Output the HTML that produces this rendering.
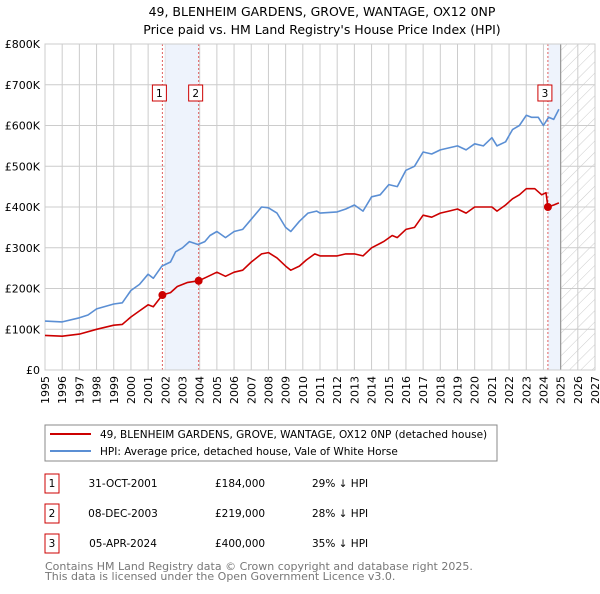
<!DOCTYPE html>
<html><head><meta charset="utf-8">
<style>
body{margin:0;background:#fff;width:600px;height:590px;overflow:hidden;font-family:"DejaVu Sans","Liberation Sans",sans-serif;}
svg text{font-family:"DejaVu Sans","Liberation Sans",sans-serif;}
</style></head>
<body>
<svg id="chart" width="600" height="590" viewBox="0 0 600 590" xmlns="http://www.w3.org/2000/svg">
<defs>
<pattern id="hatch" patternUnits="userSpaceOnUse" width="8" height="8" patternTransform="rotate(45)">
<line x1="0" y1="0" x2="0" y2="8" stroke="#ccc" stroke-width="1"/>
</pattern>
</defs>
<text x="322" y="16" text-anchor="middle" font-size="12.5">49, BLENHEIM GARDENS, GROVE, WANTAGE, OX12 0NP</text>
<text x="322" y="34" text-anchor="middle" font-size="12.5">Price paid vs. HM Land Registry's House Price Index (HPI)</text>
<g id="grid"></g>
<g id="bands"></g>
<g id="axes"></g>
<g id="series"></g>
<g id="markers"></g>
<rect x="45" y="425" width="452" height="36" fill="#fff" stroke="#888"/>
<line x1="50" y1="434" x2="91" y2="434" stroke="#cc0000" stroke-width="2"/>
<text x="100" y="438" font-size="10.5">49, BLENHEIM GARDENS, GROVE, WANTAGE, OX12 0NP (detached house)</text>
<line x1="50" y1="451" x2="91" y2="451" stroke="#5b8fd4" stroke-width="2"/>
<text x="100" y="455" font-size="10.5">HPI: Average price, detached house, Vale of White Horse</text>
<g id="table" font-size="10.5"></g>
<text x="45" y="570" font-size="11" fill="#777">Contains HM Land Registry data © Crown copyright and database right 2025.</text>
<text x="45" y="580" font-size="11" fill="#777">This data is licensed under the Open Government Licence v3.0.</text>
</svg>
<script>
const hpiYears=[1995,1996,1997,1997.5,1998,1999,1999.5,2000,2000.5,2001,2001.3,2001.8,2002.3,2002.6,2003,2003.4,2003.9,2004.3,2004.6,2005,2005.5,2006,2006.5,2007,2007.6,2008,2008.5,2009,2009.3,2009.8,2010.3,2010.8,2011,2012,2012.5,2013,2013.5,2014,2014.5,2015,2015.5,2016,2016.5,2017,2017.5,2018,2018.5,2019,2019.5,2020,2020.5,2021,2021.3,2021.8,2022.2,2022.6,2023,2023.3,2023.7,2024,2024.3,2024.6,2024.9];
const hpiValues=[120,118,128,135,150,162,165,195,210,235,225,255,265,290,300,315,308,315,330,340,325,340,345,370,400,398,385,350,340,365,385,390,385,388,395,405,390,425,430,455,450,490,500,535,530,540,545,550,540,555,550,570,550,560,590,600,625,620,620,600,620,615,640];
const ppYears=[1995,1996,1997,1998,1999,1999.5,2000,2000.5,2001,2001.3,2001.83,2002.3,2002.7,2003.3,2003.94,2004.5,2005,2005.5,2006,2006.5,2007,2007.6,2008,2008.5,2009,2009.3,2009.8,2010.2,2010.7,2011,2012,2012.5,2013,2013.5,2014,2014.7,2015.2,2015.5,2016,2016.5,2017,2017.5,2018,2018.5,2019,2019.5,2020,2021,2021.3,2021.8,2022.2,2022.6,2023,2023.5,2023.9,2024.15,2024.26,2024.6,2024.9];
const ppValues=[85,83,88,100,110,112,130,145,160,155,184,190,205,215,219,230,240,230,240,245,265,285,288,275,255,245,255,270,285,280,280,285,285,280,300,315,330,325,345,350,380,375,385,390,395,385,400,400,390,405,420,430,445,445,430,435,400,405,410];
const saleLabels=["1","2","3"];
const saleYears=[2001.83,2003.94,2024.26];
const salePrices=[184,219,400];
const saleDates=["31-OCT-2001","08-DEC-2003","05-APR-2024"];
const salePriceText=["£184,000","£219,000","£400,000"];
const saleDiff=["29% ↓ HPI","28% ↓ HPI","35% ↓ HPI"];
const yTicks=[0,100,200,300,400,500,600,700,800];
const yTickLabels=["£0","£100K","£200K","£300K","£400K","£500K","£600K","£700K","£800K"];
const xTicks=[1995,1996,1997,1998,1999,2000,2001,2002,2003,2004,2005,2006,2007,2008,2009,2010,2011,2012,2013,2014,2015,2016,2017,2018,2019,2020,2021,2022,2023,2024,2025,2026,2027];

const L=45,R=595,T=44,B=370,X0=1995,X1=2027,YMAX=800;
const NS="http://www.w3.org/2000/svg";
const xs=y=>L+(y-X0)/(X1-X0)*(R-L);
const ys=v=>B-v/YMAX*(B-T);
function mk(tag,attrs,parent,text){const e=document.createElementNS(NS,tag);for(const k in attrs)e.setAttribute(k,attrs[k]);if(text!==undefined)e.textContent=text;parent.appendChild(e);return e;}
const grid=document.getElementById('grid'),bands=document.getElementById('bands'),axes=document.getElementById('axes'),series=document.getElementById('series'),markers=document.getElementById('markers'),table=document.getElementById('table');

// hatch future
let h=mk('rect',{x:xs(2025),y:T,width:R-xs(2025),height:B-T,fill:'url(#hatch)'},bands);


// bands
let b1=mk('rect',{x:xs(2002),y:T,width:xs(saleYears[1])-xs(2002),height:B-T,fill:'#eef3fc'},bands);


let b2=mk('rect',{x:xs(saleYears[2]),y:T,width:xs(2025)-xs(saleYears[2]),height:B-T,fill:'#eef3fc'},bands);



xTicks.forEach(t=>{const g=mk('line',{x1:xs(t),x2:xs(t),y1:T,y2:B,stroke:'#ccc','stroke-width':1},grid);


const tx=mk('text',{x:0,y:0,'font-size':11,'text-anchor':'end',transform:`translate(${xs(t)+4},${B+6}) rotate(-90)`},axes,String(t));

});
yTicks.forEach((t,i)=>{const g=mk('line',{x1:L,x2:R,y1:ys(t),y2:ys(t),stroke:'#ccc','stroke-width':1},grid);


const tx=mk('text',{x:L-5,y:ys(t)+4,'font-size':11,'text-anchor':'end'},axes,yTickLabels[i]);

});
let nowLine=mk('line',{x1:xs(2025),x2:xs(2025),y1:T,y2:B,stroke:'#999','stroke-width':1.2},bands);



saleYears.forEach((y,i)=>{const l=mk('line',{x1:xs(y),x2:xs(y),y1:T,y2:B,stroke:'#e06060','stroke-width':1,'stroke-dasharray':'2,2'},bands);

});

function path(xa,va,color,name){let d=xa.map((x,i)=>(i?'L':'M')+xs(x).toFixed(1)+','+ys(va[i]).toFixed(1)).join('');
const p=mk('path',{d:d,fill:'none',stroke:color,'stroke-width':1.6,'stroke-linejoin':'round'},series);

}
path(hpiYears,hpiValues,'#5b8fd4','hpi-line');
path(ppYears,ppValues,'#cc0000','price-paid-line');

saleYears.forEach((y,i)=>{const c=mk('circle',{cx:xs(y),cy:ys(salePrices[i]),r:4,fill:'#cc0000'},markers);


const bx=xs(y)-(i==2?14:-(-7)-14)-0;
const cx=i==2?xs(y)-3:(i==0?xs(y)-3:xs(y)-3);
const r=mk('rect',{x:cx-7,y:85,width:14,height:16,fill:'#fff',stroke:'#cc0000'},markers);


mk('text',{x:cx,y:97,'font-size':10.5,'text-anchor':'middle'},markers,saleLabels[i]);
// table
const ry=[483,513,543][i];
const tb=mk('rect',{x:45,y:ry-9,width:14,height:19,fill:'#fff',stroke:'#cc0000'},table);


mk('text',{x:52,y:ry+4,'text-anchor':'middle'},table,saleLabels[i]);
const td=mk('text',{x:123,y:ry+4,'text-anchor':'middle'},table,saleDates[i]);


const tp=mk('text',{x:215,y:ry+4},table,salePriceText[i]);


const tdf=mk('text',{x:312,y:ry+4},table,saleDiff[i]);

});
// axis frame
let fr=mk('rect',{x:L,y:T,width:R-L,height:B-T,fill:'none',stroke:'#ccc'},axes);


</script>
</body></html>
